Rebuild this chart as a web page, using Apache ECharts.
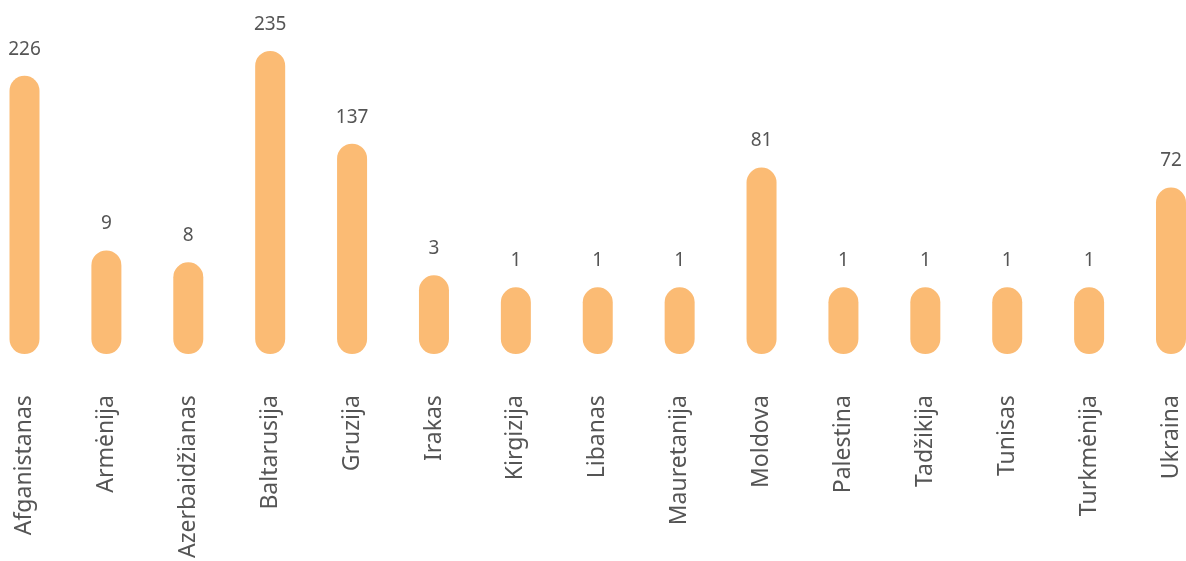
<!DOCTYPE html>
<html>
<head>
<meta charset="utf-8">
<script src="https://cdn.jsdelivr.net/npm/echarts@6/dist/echarts.min.js"></script>
<style>
  html, body { margin: 0; padding: 0; background: #fff; }
  #chart { width: 1186px; height: 561px; }
</style>
</head>
<body>
<div id="chart"></div>
<script>
// countries, in the order shown
const countries = [
  "Afganistanas", "Armėnija", "Azerbaidžianas", "Baltarusija", "Gruzija",
  "Irakas", "Kirgizija", "Libanas", "Mauretanija", "Moldova",
  "Palestina", "Tadžikija", "Tunisas", "Turkmėnija", "Ukraina"
];
// numbers printed above the bars
const counts = [226, 9, 8, 235, 137, 3, 1, 1, 1, 81, 1, 1, 1, 1, 72];
// bar lengths as drawn in the picture (the bars are not to scale with counts)
const barLength = [279, 104, 92, 304, 211, 79, 67, 67, 67, 187, 67, 67, 67, 67, 167];

const chart = echarts.init(document.getElementById("chart"));

chart.setOption({
  animation: false,
  grid: { left: 24.5, right: 15, top: 5, bottom: 206 },
  xAxis: {
    type: "category",
    data: countries,
    boundaryGap: false,
    axisLine: { show: false },
    axisTick: { show: false },
    axisLabel: {
      interval: 0,
      rotate: 90,
      margin: 41,
      color: "#555",
      fontFamily: "Noto Sans",
      fontSize: 23,
    },
  },
  yAxis: {
    type: "value",
    min: 0,
    max: 350,
    show: false,
  },
  series: [
    {
      type: "bar",
      data: barLength,
      barWidth: 30,
      clip: false,
      itemStyle: {
        color: "#FBBB74",
        borderRadius: 15,
      },
      label: {
        show: true,
        position: "top",
        distance: 17,
        color: "#555",
        fontFamily: "Noto Sans",
        fontSize: 19,
        formatter: (p) => counts[p.dataIndex],
      },
    },
  ],
});
</script>
</body>
</html>
